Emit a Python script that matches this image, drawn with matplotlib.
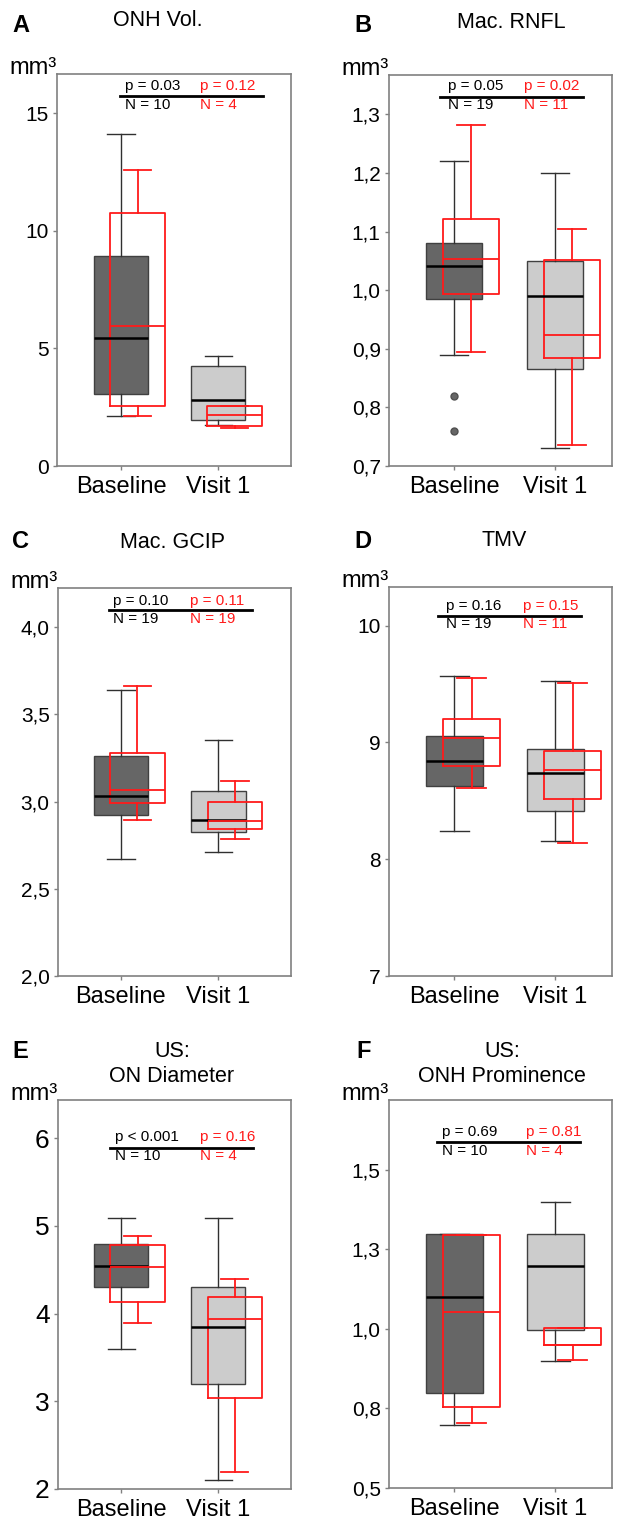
import matplotlib
matplotlib.use('Agg')
import matplotlib.pyplot as plt

plt.rcParams['font.family'] = ['Liberation Sans', 'DejaVu Sans']

W, H = 623, 1522

groups = ['Baseline', 'Visit 1']

# box values per group: whisker low, Q1, median, Q3, whisker high
onh_all = [[2.14, 3.05, 5.43, 8.94, 14.12], [1.75, 1.95, 2.80, 4.26, 4.67]]
onh_sub = [[2.14, 2.54, 5.94, 10.74, 12.57], [1.60, 1.69, 2.17, 2.54, 2.54]]

rnfl_all = [[0.89, 0.985, 1.041, 1.08, 1.22], [0.73, 0.866, 0.99, 1.049, 1.20]]
rnfl_sub = [[0.895, 0.993, 1.053, 1.122, 1.281], [0.736, 0.884, 0.924, 1.052, 1.105]]
rnfl_out = [[0.82, 0.76], []]

gcip_all = [[2.67, 2.92, 3.031, 3.26, 3.638], [2.712, 2.823, 2.892, 3.063, 3.352]]
gcip_sub = [[2.897, 2.993, 3.069, 3.279, 3.66], [2.786, 2.84, 2.888, 3.0, 3.115]]

tmv_all = [[8.244, 8.627, 8.839, 9.058, 9.57], [8.153, 8.413, 8.741, 8.942, 9.527]]
tmv_sub = [[8.607, 8.80, 9.041, 9.204, 9.553], [8.141, 8.516, 8.764, 8.93, 9.51]]

ond_all = [[3.596, 4.30, 4.546, 4.79, 5.094], [2.10, 3.20, 3.847, 4.30, 5.094]]
ond_sub = [[3.889, 4.129, 4.531, 4.778, 4.888], [2.19, 3.04, 3.942, 4.186, 4.395]]

onhp_all = [[0.698, 0.798, 1.099, 1.298, 1.298], [0.899, 0.998, 1.199, 1.298, 1.399]]
onhp_sub = [[0.705, 0.756, 1.053, 1.294, 1.294], [0.904, 0.951, 0.951, 1.004, 1.004]]

p_all = ['p = 0.03', 'p = 0.05', 'p = 0.10', 'p = 0.16', 'p < 0.001', 'p = 0.69']
n_all = ['N = 10', 'N = 19', 'N = 19', 'N = 19', 'N = 10', 'N = 10']
p_sub = ['p = 0.12', 'p = 0.02', 'p = 0.11', 'p = 0.15', 'p = 0.16', 'p = 0.81']
n_sub = ['N = 4', 'N = 11', 'N = 19', 'N = 11', 'N = 4', 'N = 4']

titles = ['ONH Vol.', 'Mac. RNFL', 'Mac. GCIP', 'TMV', 'US:\nON Diameter', 'US:\nONH Prominence']
letters = ['A', 'B', 'C', 'D', 'E', 'F']

yticks = [[0, 5, 10, 15],
          [0.7, 0.8, 0.9, 1.0, 1.1, 1.2, 1.3],
          [2.0, 2.5, 3.0, 3.5, 4.0],
          [7, 8, 9, 10],
          [2, 3, 4, 5, 6],
          [0.5, 0.75, 1.0, 1.25, 1.5]]
ylabels = [['0', '5', '10', '15'],
           ['0,7', '0,8', '0,9', '1,0', '1,1', '1,2', '1,3'],
           ['2,0', '2,5', '3,0', '3,5', '4,0'],
           ['7', '8', '9', '10'],
           ['2', '3', '4', '5', '6'],
           ['0,5', '0,8', '1,0', '1,3', '1,5']]

all_data = [onh_all, rnfl_all, gcip_all, tmv_all, ond_all, onhp_all]
sub_data = [onh_sub, rnfl_sub, gcip_sub, tmv_sub, ond_sub, onhp_sub]
outliers = [[[], []], rnfl_out, [[], []], [[], []], [[], []], [[], []]]

# layout (pixels): axes left, top, right, bottom
rects = [(57, 74, 291, 466), (389, 75, 612, 466),
         (58, 588, 291, 976), (389, 587, 612, 976),
         (58, 1100, 291, 1489), (389, 1100, 612, 1488)]
xlims = [(0.34, 2.75), (0.356, 2.564), (0.355, 2.745), (0.353, 2.56), (0.35, 2.75), (0.353, 2.56)]
ylims = [(0, 16.66), (0.7, 1.367), (2.0, 4.224), (7, 10.33), (2, 6.436), (0.5, 1.72)]
# line x0, x1, line y, p y, N y, black text x, red text x (axes fractions)
ann = [(0.269, 0.880, 0.944, 0.969, 0.921, 0.291, 0.611),
       (0.229, 0.870, 0.944, 0.972, 0.923, 0.265, 0.605),
       (0.220, 0.833, 0.943, 0.966, 0.919, 0.238, 0.567),
       (0.221, 0.861, 0.926, 0.951, 0.904, 0.257, 0.601),
       (0.224, 0.838, 0.877, 0.904, 0.856, 0.246, 0.610),
       (0.216, 0.855, 0.891, 0.917, 0.868, 0.239, 0.615)]
title_pos = [(158, 21), (511, 23), (173, 542), (504, 541), (172, 1064), (502, 1064)]
letter_pos = [(12, 25), (354, 25), (12, 542), (354, 541), (12, 1052), (356, 1051)]

RED = '#ff1a1a'


def stats(v, fl):
    return dict(whislo=v[0], q1=v[1], med=v[2], q3=v[3], whishi=v[4], fliers=fl)


fig = plt.figure(figsize=(W / 100, H / 100), dpi=100)
fig.patch.set_facecolor('white')

for i in range(6):
    l, t, r, b = rects[i]
    ax = fig.add_axes([l / W, 1 - b / H, (r - l) / W, (b - t) / H])

    bp = ax.bxp([stats(v, f) for v, f in zip(all_data[i], outliers[i])],
                positions=[1, 2], widths=0.56, capwidths=0.28, patch_artist=True,
                manage_ticks=False,
                boxprops=dict(edgecolor='#404040', linewidth=1),
                whiskerprops=dict(color='#303030', linewidth=1),
                capprops=dict(color='#303030', linewidth=1),
                medianprops=dict(color='black', linewidth=1.8),
                flierprops=dict(marker='o', markerfacecolor='#666666',
                                markeredgecolor='#505050', markersize=5))
    for patch, c in zip(bp['boxes'], ['#666666', '#cccccc']):
        patch.set_facecolor(c)

    ax.bxp([stats(v, []) for v in sub_data[i]],
           positions=[1.17, 2.17], widths=0.56, capwidths=0.28, patch_artist=False,
           manage_ticks=False, showfliers=False,
           boxprops=dict(color=RED, linewidth=1.3),
           whiskerprops=dict(color=RED, linewidth=1.3),
           capprops=dict(color=RED, linewidth=1.3),
           medianprops=dict(color=RED, linewidth=1.3))

    ax.set_xlim(*xlims[i])
    ax.set_ylim(*ylims[i])
    ax.set_xticks([1, 2])
    ax.set_xticklabels(groups)
    ax.set_yticks(yticks[i])
    ax.set_yticklabels(ylabels[i])
    for s in ax.spines.values():
        s.set_color('#808080')
        s.set_linewidth(1.2)
    ax.tick_params(axis='both', color='#808080', width=1, length=3, direction='out')
    ax.tick_params(axis='x', labelsize=17, pad=4)
    ax.tick_params(axis='y', labelsize=19 if i == 4 else 15, pad=3)

    x0, x1, ly, py, ny, bx, rx = ann[i]
    ax.plot([x0, x1], [ly, ly], transform=ax.transAxes, color='black', lw=2, clip_on=False)
    ax.text(bx, py, p_all[i], transform=ax.transAxes, fontsize=11, va='center', ha='left')
    ax.text(bx, ny, n_all[i], transform=ax.transAxes, fontsize=11, va='center', ha='left')
    ax.text(rx, py, p_sub[i], transform=ax.transAxes, fontsize=11, va='center', ha='left', color=RED)
    ax.text(rx, ny, n_sub[i], transform=ax.transAxes, fontsize=11, va='center', ha='left', color=RED)

    ax.text(0.0, 1.0, 'mm³', transform=ax.transAxes, fontsize=17, ha='right', va='baseline')

    tx, ty = title_pos[i]
    fig.text(tx / W, 1 - ty / H, titles[i], fontsize=15.5, ha='center', va='center',
             linespacing=1.3)
    lx, ly2 = letter_pos[i]
    fig.text(lx / W, 1 - ly2 / H, letters[i], fontsize=17, fontweight='bold',
             ha='left', va='center')

fig.savefig('out.png', dpi=100)
